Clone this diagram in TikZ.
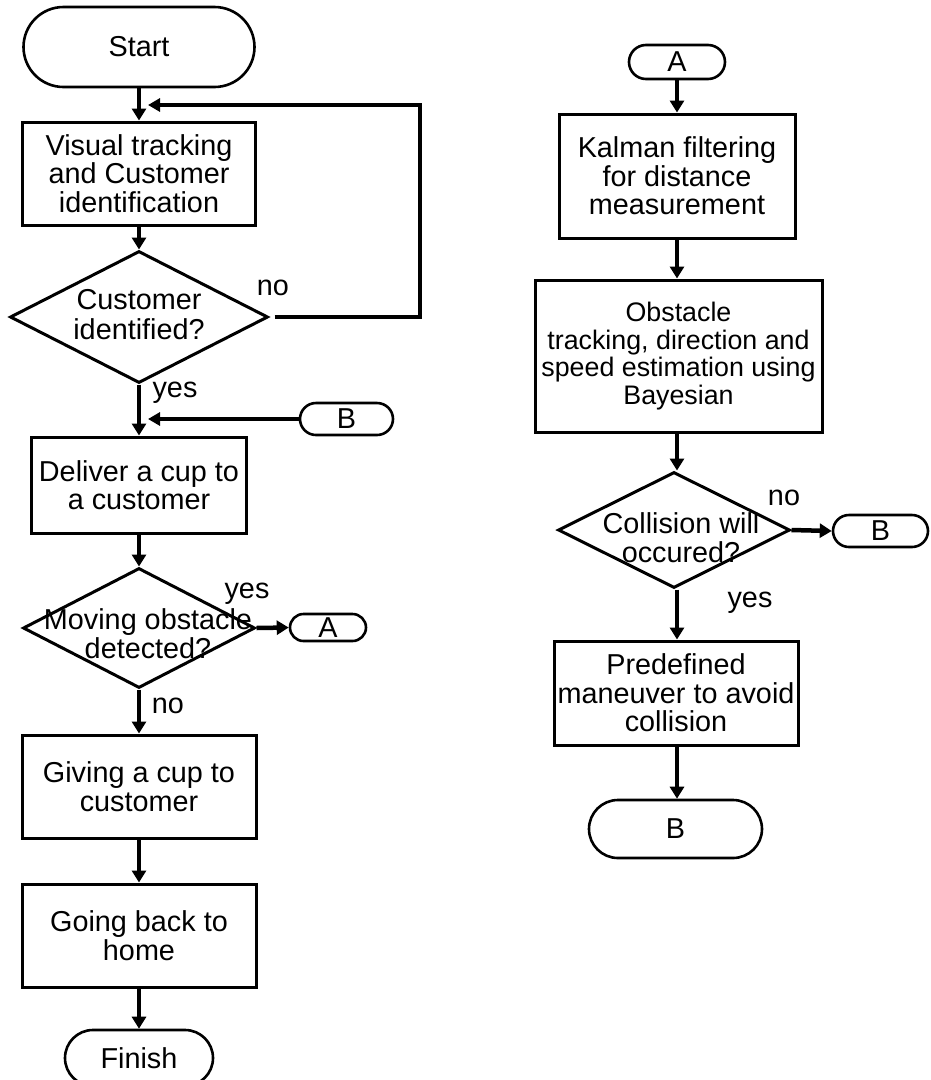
\documentclass[tikz,border=0pt]{standalone}
\usepackage{fontspec}
\setmainfont{Liberation Sans}
\usetikzlibrary{shapes.geometric,shapes.misc,arrows.meta}
\newcommand{\ztext}[2]{\raisebox{#1}[0pt][0pt]{\makebox[0pt]{\begin{tabular}{@{}c@{}}#2\end{tabular}}}}
\begin{document}
\begin{tikzpicture}[x=1pt,y=-1pt,
  font=\fontsize{28.8}{28.5}\selectfont,
  box/.style={draw, line width=3pt, rectangle, inner sep=0pt, align=center},
  term/.style={draw, line width=2.6pt, rounded rectangle, inner sep=0pt},
  dec/.style={draw, line width=3pt, diamond, inner sep=0pt},
  arr/.style={line width=4.5pt, -{Triangle[length=12pt,width=14pt]}},
  thin arr/.style={line width=3.5pt, -{Triangle[length=12pt,width=13pt]}},
  lbl/.style={inner sep=0pt}]
\useasboundingbox (0,0) rectangle (931,1080);
% left column
\node[term, minimum width=231pt, minimum height=80pt] (start) at (139,47) {Start};
\node[box, minimum width=233pt, minimum height=103pt] (b1) at (139,173.5) {Visual tracking\\and Customer\\identification};
\node[dec, minimum width=258pt, minimum height=132pt] (d1) at (139,317) {\ztext{-8pt}{Customer\\identified?}};
\node[term, minimum width=93pt, minimum height=32pt] (cb1) at (346.5,419) {B};
\node[box, minimum width=215pt, minimum height=96pt] (b2) at (139,485) {Deliver a cup to\\a customer};
\node[dec, minimum width=232pt, minimum height=120pt] (d2) at (139,628) {\ztext{-16pt}{\hspace{18pt}\begin{tabular}{@{}c@{}}Moving obstacle\\detected?\end{tabular}}};
\node[term, minimum width=76pt, minimum height=27pt] (ca1) at (328,627.5) {A};
\node[box, minimum width=234pt, minimum height=103pt] (b3) at (139,786.5) {Giving a cup to\\customer};
\node[box, minimum width=234pt, minimum height=103pt] (b4) at (139,935.5) {Going back to\\home};
\node[term, minimum width=148pt, minimum height=56pt] (fin) at (139,1058) {Finish};
% right column
\node[term, minimum width=96pt, minimum height=34pt] (ca2) at (677,62) {A};
\node[box, minimum width=236pt, minimum height=124pt] (b5) at (677,176) {Kalman filtering\\for distance\\measurement};
\node[box, minimum width=287pt, minimum height=152pt, font=\fontsize{26.8}{27.5}\selectfont] (b6) at (678.5,356) {Obstacle\\tracking, direction and\\speed estimation using\\Bayesian};
\node[dec, minimum width=232pt, minimum height=116pt] (d3) at (674,530) {\ztext{-18pt}{\hspace{14pt}\begin{tabular}{@{}c@{}}Collision will\\occured?\end{tabular}}};
\node[term, minimum width=95pt, minimum height=32pt] (cb2) at (880.5,531) {B};
\node[box, minimum width=244pt, minimum height=104pt] (b7) at (676,693) {Predefined\\maneuver to avoid\\collision};
\node[term, minimum width=173pt, minimum height=58pt] (cb3) at (675.5,829) {B};
% labels
\node[lbl] (lno1) at (273,288) {no};
\node[lbl] (lyes1) at (175,393) {yes};
\node[lbl] (lyes2) at (247,594) {yes};
\node[lbl] (lno2) at (168,706) {no};
\node[lbl] (lno3) at (784,498) {no};
\node[lbl] (lyes3) at (750,603) {yes};
% join points
\coordinate (r1) at (420,105);
\coordinate (j1) at (148,105);
\coordinate (j2) at (148,419);
% connectors left
\draw[arr] (start.south) -- (b1.north);
\draw[arr] (b1.south) -- (d1.north);
\draw[thin arr, shorten <=5pt] (d1.east) -| (r1) -- (j1);
\draw[arr] (d1.south) -- (b2.north);
\draw[thin arr] (cb1.west) -- (j2);
\draw[arr] (b2.south) -- (d2.north);
\draw[arr] (d2.east) -- (ca1.west);
\draw[arr] (d2.south) -- (b3.north);
\draw[arr] (b3.south) -- (b4.north);
\draw[arr] (b4.south) -- (fin.north);
% connectors right
\draw[arr] (ca2.south) -- (b5.north);
\draw[arr] (b5.south) -- (b5.south |- b6.north);
\draw[arr] (b6.south -| ca2.south) -- (d3.north -| ca2.south);
\draw[arr] (d3.east) -- (cb2.west);
\draw[arr] (d3.south -| ca2.south) -- (b7.north -| ca2.south);
\draw[arr] (b7.south -| ca2.south) -- (cb3.north -| ca2.south);
\end{tikzpicture}
\end{document}
